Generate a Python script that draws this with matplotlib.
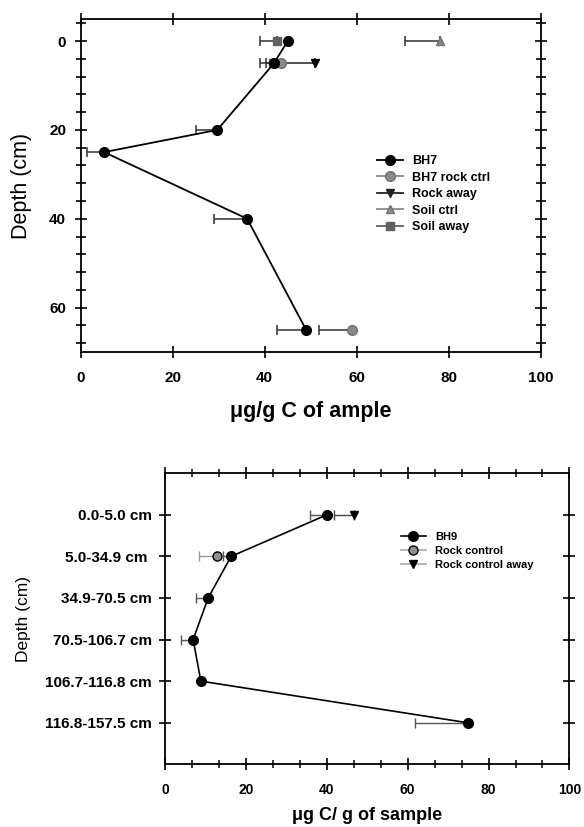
import matplotlib
matplotlib.use("Agg")
import matplotlib.pyplot as plt
from matplotlib.lines import Line2D
from matplotlib.ticker import AutoMinorLocator
import numpy as np

plt.rcParams['font.family'] = ['Liberation Sans', 'DejaVu Sans']

# ---------------- Top panel data (BH7) ----------------
bh7_depth = [0, 5, 20, 25, 40, 65]
bh7_val = [45.0, 42.0, 29.7, 5.1, 36.2, 49.0]
bh7_err = [0.0, 0.0, 4.7, 3.6, 7.2, 6.3]

rockctrl_depth = [5, 65]
rockctrl_val = [43.5, 59.0]
rockctrl_err = [3.2, 7.1]

rockaway_depth = [5]
rockaway_val = [51.0]
rockaway_err = [9.0]

soilctrl_depth = [0]
soilctrl_val = [78.0]
soilctrl_err = [7.4]

soilaway_depth = [0, 5]
soilaway_val = [42.6, 41.8]
soilaway_err = [3.6, 2.8]

top_xticks = [0, 20, 40, 60, 80, 100]
top_yticks = [0, 20, 40, 60]

# ---------------- Bottom panel data (BH9) ----------------
bh9_cats = ["0.0-5.0 cm", "5.0-34.9 cm ", "34.9-70.5 cm", "70.5-106.7 cm",
            "106.7-116.8 cm", "116.8-157.5 cm"]
bh9_val = [40.0, 16.3, 10.6, 6.9, 8.8, 74.8]
bh9_err = [4.2, 2.0, 3.1, 3.0, 0.0, 13.0]

rc_cat = [1]
rc_val = [12.7]
rc_err = [4.3]

rca_cat = [0]
rca_val = [46.7]
rca_err = [4.9]

bot_xticks = [0, 20, 40, 60, 80, 100]

fig = plt.figure(figsize=(5.84, 8.27), dpi=100)

# ================= Top panel =================
ax1 = fig.add_axes([0.138, 0.5744, 0.788, 0.4027])

def left_err(e):
    return [e, [0] * len(e)]

ax1.errorbar(soilaway_val, soilaway_depth, xerr=left_err(soilaway_err), fmt='s',
             color='#606060', ms=6, ecolor='#303030', elinewidth=1.1, capsize=3.5, capthick=1.1)
ax1.errorbar(rockctrl_val, rockctrl_depth, xerr=left_err(rockctrl_err), fmt='o',
             mfc='#8a8a8a', mec='#707070', ms=7, ecolor='#303030', elinewidth=1.1, capsize=3.5, capthick=1.1)
ax1.errorbar(rockaway_val, rockaway_depth, xerr=left_err(rockaway_err), fmt='v',
             color='black', ms=6, ecolor='#202020', elinewidth=1.1, capsize=3.5, capthick=1.1)
ax1.errorbar(soilctrl_val, soilctrl_depth, xerr=left_err(soilctrl_err), fmt='^',
             mfc='#8a8a8a', mec='#707070', ms=6, ecolor='#303030', elinewidth=1.1, capsize=3.5, capthick=1.1)
ax1.errorbar(bh7_val, bh7_depth, xerr=left_err(bh7_err), fmt='-o',
             color='black', lw=1.3, ms=7, ecolor='#303030', elinewidth=1.1, capsize=3.5, capthick=1.1,
             zorder=3)

ax1.set_xlim(0, 100)
ax1.set_ylim(70, -5)
ax1.set_xticks(top_xticks)
ax1.set_yticks(top_yticks)
ax1.yaxis.set_minor_locator(AutoMinorLocator(5))
for sp in ax1.spines.values():
    sp.set_linewidth(1.3)
ax1.tick_params(axis='both', which='major', direction='inout', length=9, width=1.2,
                top=True, right=True, labelsize=11)
ax1.tick_params(axis='x', which='major', pad=9)
ax1.tick_params(axis='y', which='major', pad=6)
ax1.tick_params(axis='y', which='minor', direction='inout', length=7, width=1.2, right=True)
for lab in ax1.get_xticklabels() + ax1.get_yticklabels():
    lab.set_fontweight('bold')
ax1.set_xlabel("μg/g C of ample", fontsize=15.5, fontweight='bold', labelpad=12)
ax1.set_ylabel("Depth (cm)", fontsize=15.5, labelpad=12)

h_top = [
    Line2D([], [], color='black', lw=1.3, marker='o', ms=7),
    Line2D([], [], color='#8a8a8a', lw=1.3, marker='o', mfc='#8a8a8a', mec='#707070', ms=7),
    Line2D([], [], color='#202020', lw=1.3, marker='v', ms=6),
    Line2D([], [], color='#8a8a8a', lw=1.3, marker='^', mfc='#8a8a8a', mec='#707070', ms=6),
    Line2D([], [], color='#606060', lw=1.3, marker='s', ms=6),
]
l_top = ["BH7", "BH7 rock ctrl", "Rock away", "Soil ctrl", "Soil away"]
ax1.legend(h_top, l_top, loc='upper left', bbox_to_anchor=(0.645, 0.812),
           bbox_transform=fig.transFigure, frameon=False,
           handlelength=2.1, handletextpad=0.7, labelspacing=0.35,
           borderpad=0, borderaxespad=0, prop={'weight': 'bold', 'size': 9})

# ================= Bottom panel =================
ax2 = fig.add_axes([0.283, 0.0758, 0.692, 0.352])
ypos = np.arange(len(bh9_cats))

ax2.errorbar(rca_val, rca_cat, xerr=left_err(rca_err), fmt='v', color='black', ms=6,
             ecolor='#444444', elinewidth=1.0, capsize=3.5, capthick=1.0)
ax2.errorbar(rc_val, rc_cat, xerr=left_err(rc_err), fmt='o', mfc='#909090', mec='black',
             ms=6.5, ecolor='#999999', elinewidth=1.0, capsize=3.5, capthick=1.0)
ax2.errorbar(bh9_val, ypos, xerr=left_err(bh9_err), fmt='-o', color='black', lw=1.2, ms=7,
             ecolor='#555555', elinewidth=1.0, capsize=3.5, capthick=1.0, zorder=3)

ax2.set_xlim(0, 100)
ax2.set_ylim(len(bh9_cats), -1)
ax2.set_xticks(bot_xticks)
ax2.xaxis.set_minor_locator(AutoMinorLocator(3))
ax2.set_yticks(ypos)
ax2.set_yticklabels(bh9_cats)
for sp in ax2.spines.values():
    sp.set_linewidth(1.3)
ax2.tick_params(axis='both', which='major', direction='inout', length=9, width=1.2,
                top=True, right=True)
ax2.tick_params(axis='x', which='major', pad=9, labelsize=10)
ax2.tick_params(axis='y', which='major', pad=5, labelsize=11)
ax2.tick_params(axis='x', which='minor', direction='inout', length=6, width=1.1, top=True)
for lab in ax2.get_xticklabels() + ax2.get_yticklabels():
    lab.set_fontweight('bold')
ax2.set_xlabel("μg C/ g of sample", fontsize=13, fontweight='bold', labelpad=7)
ax2.set_ylabel("Depth (cm)", fontsize=12.5, labelpad=10)

h_bot = [
    Line2D([], [], color='black', lw=1.2, marker='o', ms=7),
    Line2D([], [], color='#aaaaaa', lw=1.2, marker='o', mfc='#909090', mec='black', ms=6.5),
    Line2D([], [], color='#aaaaaa', lw=1.2, marker='v', mfc='black', mec='black', ms=6),
]
l_bot = ["BH9", "Rock control", "Rock control away"]
ax2.legend(h_bot, l_bot, loc='upper left', bbox_to_anchor=(0.686, 0.357),
           bbox_transform=fig.transFigure, frameon=False,
           handlelength=2.3, handletextpad=0.8, labelspacing=0.35,
           borderpad=0, borderaxespad=0, prop={'weight': 'bold', 'size': 8})

fig.savefig("out.png", dpi=100)
